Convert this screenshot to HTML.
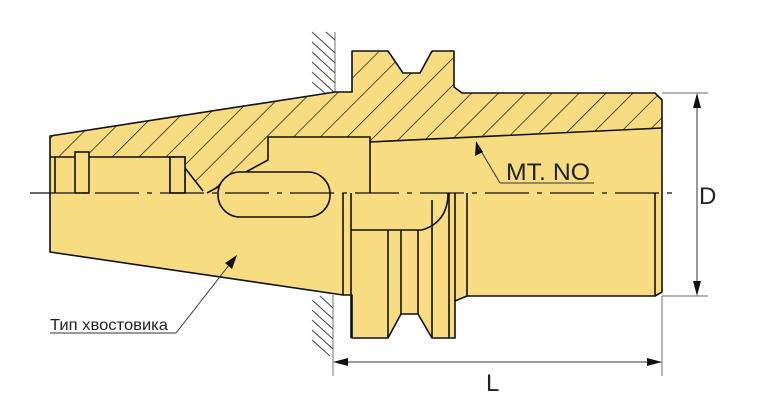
<!DOCTYPE html>
<html><head><meta charset="utf-8"><style>
html,body{margin:0;padding:0;background:#fff;width:773px;height:406px;overflow:hidden}
svg{display:block}
text{font-family:"Liberation Sans",sans-serif;fill:#222}
</style></head><body>
<svg width="773" height="406" viewBox="0 0 773 406" xmlns="http://www.w3.org/2000/svg">
<defs>
<pattern id="h" patternUnits="userSpaceOnUse" width="19" height="19" patternTransform="rotate(45)">
<line x1="0" y1="0" x2="0" y2="19" stroke="#111" stroke-width="1.4"/>
</pattern>
<clipPath id="c"><path d="M50,136 L335,92 L352,92 L352,51 L388,51 L403,73 L420,73 L432,51 L454,51 L454,87 L462,93 L655,93 L662,100 L662,128 L370,142 L370,137 L268,137 L268,160 L207,193 L203,193 L185,168 L185,157 L50,157 Z"/></clipPath>
</defs>
<g stroke="#888" stroke-width="1.2">
<line x1="335" y1="32" x2="335" y2="92"/>
<line x1="333" y1="295" x2="333" y2="376"/>
<line x1="662" y1="296" x2="662" y2="376"/>
<line x1="662" y1="93" x2="708" y2="93"/>
<line x1="662" y1="296" x2="708" y2="296"/>
</g>
<g stroke="#444" stroke-width="1">
<line x1="312" y1="32" x2="335" y2="53"/><line x1="312" y1="42" x2="335" y2="63"/>
<line x1="312" y1="52" x2="335" y2="73"/><line x1="312" y1="62" x2="335" y2="83"/>
<line x1="312" y1="72" x2="335" y2="93"/><line x1="312" y1="82" x2="326" y2="94"/>
<line x1="326" y1="32" x2="335" y2="40"/>
<line x1="312" y1="300" x2="333" y2="319"/><line x1="312" y1="310" x2="333" y2="329"/>
<line x1="312" y1="320" x2="333" y2="339"/><line x1="312" y1="330" x2="333" y2="349"/>
<line x1="312" y1="340" x2="330" y2="356"/><line x1="320" y1="296" x2="333" y2="308"/>
</g>
<g stroke="#111" stroke-width="1.6" fill="#f8dc82" stroke-linejoin="round">
<path d="M50,136 L335,92 L352,92 L352,51 L388,51 L403,73 L420,73 L432,51 L454,51 L454,87 L462,93 L655,93 L662,100 L662,292 L655,296 L467,296 L455,301 L455,338 L432,338 L418,314 L401,314 L388,338 L352,338 L352,295 L343,295 L50,252 Z"/>
</g>
<rect x="0" y="0" width="773" height="406" fill="url(#h)" clip-path="url(#c)"/>
<g stroke="#111" stroke-width="1.6" fill="none">
<path d="M50,157 L185,157 L185,193 M170,193 L170,157 M185,168 L203,191 M207,193 L268,160 L268,137 L370,137 L370,193 M370,142 L662,128"/>
<rect x="75" y="152" width="14" height="41" fill="#f8dc82"/>
<rect x="170" y="157" width="15" height="36" fill="#f8dc82"/>
<line x1="55" y1="157" x2="55" y2="193"/>
<rect x="218" y="172" width="112" height="45" rx="22" fill="#f8dc82"/>
<path d="M343,193 L343,295 M351,193 L351,338 M351,230 L422,230 Q448,222 448,193"/>
<path d="M388,230 L388,338 M401,230 L401,314 M418,230 L418,314 M432,200 L432,338 M449,193 L449,338 M455,193 L455,301 M467,193 L467,296 M655,193 L655,296"/>
</g>
<g stroke="#111" stroke-width="1.3" stroke-dasharray="44,8,5,8">
<line x1="30" y1="193" x2="672" y2="193"/>
</g>
<g stroke="#333" stroke-width="1">
<line x1="697" y1="97" x2="697" y2="292"/>
<line x1="337" y1="362" x2="658" y2="362"/>
<line x1="500" y1="183" x2="594" y2="183"/>
<line x1="500" y1="183" x2="478" y2="146"/>
<line x1="50" y1="333" x2="176" y2="333"/>
<line x1="176" y1="333" x2="233" y2="260"/>
</g>
<g fill="#111">
<path d="M697,93 L693,108 L701,108 Z"/>
<path d="M697,296 L693,281 L701,281 Z"/>
<path d="M333,362 L348,358 L348,366 Z"/>
<path d="M662,362 L647,358 L647,366 Z"/>
<path d="M476,141 L475,156 L483,152 Z"/>
<path d="M237,255 L225,263 L232,269 Z"/>
</g>
<text x="506" y="180" font-size="24" textLength="84" lengthAdjust="spacingAndGlyphs">MT. NO</text>
<text x="699" y="204" font-size="24">D</text>
<text x="486" y="391" font-size="24">L</text>
<text x="50" y="330" font-size="16" textLength="118" lengthAdjust="spacingAndGlyphs">Тип хвостовика</text>
</svg>
</body></html>
